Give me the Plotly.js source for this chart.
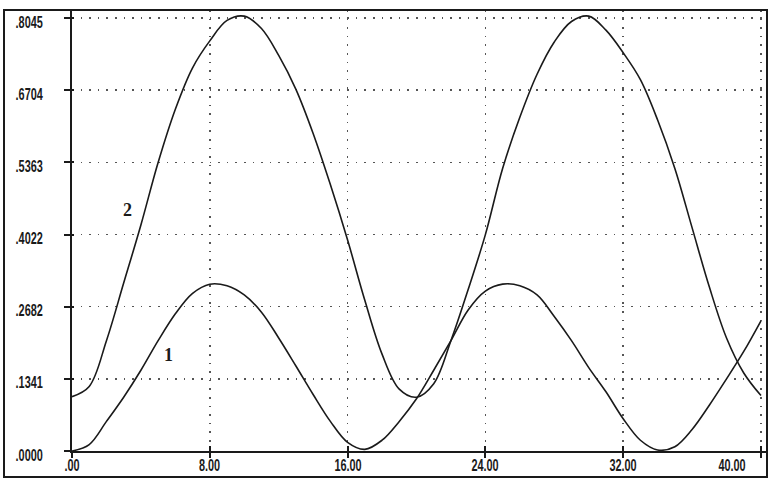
<!DOCTYPE html>
<html>
<head>
<meta charset="utf-8">
<script src="https://cdn.plot.ly/plotly-3.0.1.min.js"></script>
<style>
html,body{margin:0;padding:0;background:#fff;}
#chart{width:770px;height:482px;}
</style>
</head>
<body>
<div id="chart"></div>
<script>
// Abscissa samples (time)
const xs = [0,1,2,3,4,5,6,7,8,9,10,11,12,13,14,15,16,17,18,19,20,21,22,23,24,25,26,27,28,29,30,31,32,33,34,35,36,37,38,39,40];
// Curve 1 values
const curve1 = [0, 0.012, 0.055, 0.100, 0.150, 0.205, 0.255, 0.293, 0.310, 0.307, 0.290, 0.258, 0.210, 0.158, 0.105, 0.055, 0.016, 0.003, 0.020, 0.055, 0.097, 0.150, 0.205, 0.262, 0.297, 0.310, 0.307, 0.290, 0.250, 0.205, 0.155, 0.110, 0.060, 0.020, 0.002, 0.008, 0.040, 0.085, 0.134, 0.185, 0.242];
// Curve 2 values
const curve2 = [0.101, 0.120, 0.205, 0.312, 0.420, 0.536, 0.635, 0.712, 0.762, 0.800, 0.808, 0.785, 0.735, 0.672, 0.590, 0.495, 0.392, 0.280, 0.180, 0.115, 0.100, 0.125, 0.205, 0.300, 0.402, 0.525, 0.620, 0.700, 0.760, 0.798, 0.808, 0.782, 0.740, 0.690, 0.615, 0.525, 0.415, 0.305, 0.210, 0.145, 0.103];

const yTickVals = [0, 0.1341, 0.2682, 0.4022, 0.5363, 0.6704, 0.8045];
const yTickText = ['.0000', '.1341', '.2682', '.4022', '.5363', '.6704', '.8045'];
const xTickVals = [0, 8, 16, 24, 32, 40];
const xTickText = ['.00', '8.00', '16.00', '24.00', '32.00', '40.00'];
const curveNames = ['1', '2'];

const ink = '#1a1a1a';
const labelFont = {family: '"Liberation Sans", Arial, sans-serif', size: 16, color: ink, weight: 'bold'};
const curveLabelFont = {family: '"Liberation Serif", "DejaVu Serif", serif', size: 18, color: ink, weight: 'bold'};
const xRange = [0, 40.35];
const yRange = [0, 0.8194];

const traces = [
  {x: xs, y: curve1, name: curveNames[0], mode: 'lines', line: {color: ink, width: 1.6, shape: 'spline', smoothing: 1}, hoverinfo: 'skip'},
  {x: xs, y: curve2, name: curveNames[1], mode: 'lines', line: {color: ink, width: 1.6, shape: 'spline', smoothing: 1}, hoverinfo: 'skip'},
  {x: [], y: [], xaxis: 'x2', yaxis: 'y2', mode: 'lines', showlegend: false, hoverinfo: 'skip'}
];

const annotations = xTickVals.map((v, i) => ({
  x: v, y: -0.010, xref: 'x', yref: 'paper',
  text: xTickText[i], showarrow: false,
  xanchor: i === xTickVals.length - 1 ? 'right' : 'center',
  xshift: i === xTickVals.length - 1 ? -7 : 0,
  yanchor: 'top', font: labelFont
}));
annotations.push({x: 5.6, y: 0.178, xref: 'x', yref: 'y', text: curveNames[0], showarrow: false, font: curveLabelFont});
annotations.push({x: 3.25, y: 0.448, xref: 'x', yref: 'y', text: curveNames[1], showarrow: false, font: curveLabelFont});

const layout = {
  width: 770, height: 482,
  margin: {l: 72, r: 3, t: 10, b: 31, pad: 0},
  paper_bgcolor: '#ffffff', plot_bgcolor: '#ffffff',
  showlegend: false,
  xaxis: {
    range: xRange, tickvals: xTickVals, showticklabels: false,
    ticks: 'outside', ticklen: 5, tickwidth: 2, tickcolor: ink,
    showline: true, linecolor: ink, linewidth: 2,
    showgrid: true, gridcolor: '#555', gridwidth: 1.6, griddash: '1.6px,7px',
    zeroline: false, fixedrange: true
  },
  yaxis: {
    range: yRange, tickvals: yTickVals, ticktext: yTickText,
    ticks: 'outside', ticklen: 6, tickwidth: 2, tickcolor: ink,
    ticklabelstandoff: 18, ticklabelshift: 4,
    showline: true, linecolor: ink, linewidth: 2,
    showgrid: true, gridcolor: '#555', gridwidth: 1.6, griddash: '1.6px,7px',
    zeroline: false, tickfont: labelFont, fixedrange: true
  },
  xaxis2: {overlaying: 'x', range: xRange, tickvals: xTickVals, showticklabels: false,
    ticks: 'inside', ticklen: 5, tickwidth: 2, tickcolor: ink, showgrid: false, zeroline: false, showline: false},
  yaxis2: {overlaying: 'y', range: yRange, tickvals: yTickVals, showticklabels: false,
    ticks: 'inside', ticklen: 2, tickwidth: 2, tickcolor: ink, showgrid: false, zeroline: false, showline: false},
  shapes: [
    {type: 'rect', xref: 'paper', yref: 'paper', x0: -68/695, x1: 1, y0: -26/441, y1: 1,
     line: {color: ink, width: 2}, fillcolor: 'rgba(0,0,0,0)', layer: 'above'}
  ],
  annotations: annotations
};

Plotly.newPlot('chart', traces, layout, {staticPlot: true, displayModeBar: false}).then(function (gd) {
  // condense the numeric labels to mimic the narrow print font
  const nodes = gd.querySelectorAll('.ytick text, .annotation-text');
  nodes.forEach(function (t) {
    if (t.textContent.indexOf('.') < 0) return;
    const w = t.getComputedTextLength();
    t.setAttribute('textLength', (w * 0.68).toFixed(1));
    t.setAttribute('lengthAdjust', 'spacingAndGlyphs');
  });
});
</script>
</body>
</html>
